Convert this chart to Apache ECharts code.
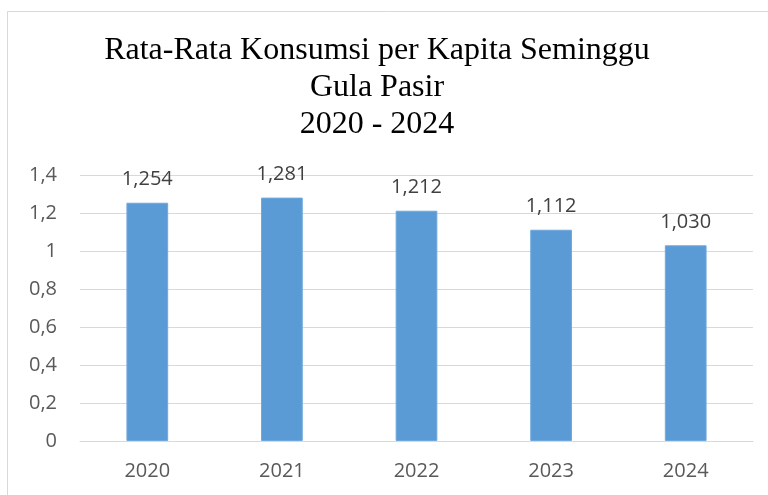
<!DOCTYPE html>
<html>
<head>
<meta charset="utf-8">
<script src="https://cdn.jsdelivr.net/npm/echarts@6/dist/echarts.min.js"></script>
<style>
  html, body { margin: 0; padding: 0; background: #fff; }
  #chart { width: 768px; height: 495px; }
</style>
</head>
<body>
<div id="chart"></div>
<script>
// data
var years = ['2020', '2021', '2022', '2023', '2024'];
var konsumsi = [1.254, 1.281, 1.212, 1.112, 1.030];
var titleLines = ['Rata-Rata Konsumsi per Kapita Seminggu', 'Gula Pasir', '2020 - 2024'];

var myChart = echarts.init(document.getElementById('chart'));

function koma (v, d) {
  return v.toFixed(d).replace('.', ',');
}

var option = {
  backgroundColor: '#fff',
  animation: false,
  graphic: [
    {
      type: 'rect',
      shape: { x: 7.5, y: 11.5, width: 780, height: 500 },
      style: { fill: 'none', stroke: '#d9d9d9', lineWidth: 1 }
    }
  ],
  title: {
    text: titleLines.join('\n'),
    left: 372,
    top: 27,
    textAlign: 'center',
    textStyle: {
      fontFamily: 'Liberation Serif',
      fontWeight: 'normal',
      fontSize: 32,
      lineHeight: 37,
      color: '#000'
    }
  },
  grid: {
    left: 80,
    right: 15,
    top: 175,
    bottom: 54,
    containLabel: false
  },
  xAxis: {
    type: 'category',
    data: years,
    axisLine: { show: true, lineStyle: { color: '#d9d9d9', width: 1 } },
    axisTick: { show: false },
    axisLabel: {
      color: '#595959',
      fontFamily: 'Open Sans',
      fontSize: 20,
      margin: 20
    }
  },
  yAxis: {
    type: 'value',
    min: 0,
    max: 1.4,
    interval: 0.2,
    axisLine: { show: false },
    axisTick: { show: false },
    splitLine: { lineStyle: { color: '#d9d9d9', width: 1 } },
    axisLabel: {
      color: '#595959',
      fontFamily: 'Open Sans',
      fontSize: 20,
      margin: 23,
      formatter: function (v) {
        return String(Math.round(v * 10) / 10).replace('.', ',');
      }
    }
  },
  series: [
    {
      type: 'bar',
      data: konsumsi,
      barWidth: '31%',
      itemStyle: { color: '#5b9bd5', borderColor: '#6fa8dc', borderWidth: 1 },
      label: {
        show: true,
        position: 'top',
        distance: 13,
        color: '#404040',
        fontFamily: 'Open Sans',
        fontSize: 20,
        formatter: function (p) { return koma(p.value, 3); }
      }
    }
  ]
};

myChart.setOption(option);
</script>
</body>
</html>
